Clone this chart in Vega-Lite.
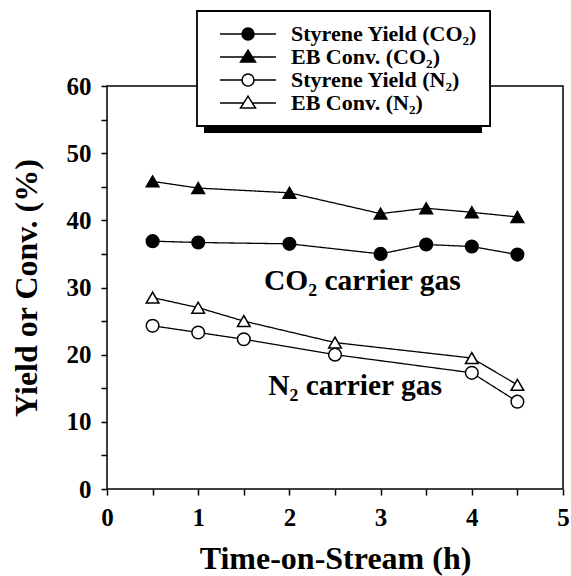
{
  "$schema": "https://vega.github.io/schema/vega-lite/v6.json",
  "width": 456,
  "height": 403,
  "autosize": {"type": "none"},
  "padding": {"left": 107, "top": 86, "right": 8, "bottom": 87},
  "background": "white",
  "config": {
    "view": {"stroke": "black", "strokeWidth": 1.5},
    "font": "Liberation Serif"
  },
  "datasets": {
    "d": [
      {"series": "Styrene Yield (CO₂)", "x": 0.5, "y": 36.9},
      {"series": "Styrene Yield (CO₂)", "x": 1, "y": 36.7},
      {"series": "Styrene Yield (CO₂)", "x": 2, "y": 36.5},
      {"series": "Styrene Yield (CO₂)", "x": 3, "y": 35.0},
      {"series": "Styrene Yield (CO₂)", "x": 3.5, "y": 36.4},
      {"series": "Styrene Yield (CO₂)", "x": 4, "y": 36.1},
      {"series": "Styrene Yield (CO₂)", "x": 4.5, "y": 34.9},
      {"series": "EB Conv. (CO₂)", "x": 0.5, "y": 45.8},
      {"series": "EB Conv. (CO₂)", "x": 1, "y": 44.8},
      {"series": "EB Conv. (CO₂)", "x": 2, "y": 44.1},
      {"series": "EB Conv. (CO₂)", "x": 3, "y": 41.0},
      {"series": "EB Conv. (CO₂)", "x": 3.5, "y": 41.8},
      {"series": "EB Conv. (CO₂)", "x": 4, "y": 41.2},
      {"series": "EB Conv. (CO₂)", "x": 4.5, "y": 40.5},
      {"series": "Styrene Yield (N₂)", "x": 0.5, "y": 24.3},
      {"series": "Styrene Yield (N₂)", "x": 1, "y": 23.3},
      {"series": "Styrene Yield (N₂)", "x": 1.5, "y": 22.3},
      {"series": "Styrene Yield (N₂)", "x": 2.5, "y": 20.0},
      {"series": "Styrene Yield (N₂)", "x": 4, "y": 17.3},
      {"series": "Styrene Yield (N₂)", "x": 4.5, "y": 13.0},
      {"series": "EB Conv. (N₂)", "x": 0.5, "y": 28.5},
      {"series": "EB Conv. (N₂)", "x": 1, "y": 27.0},
      {"series": "EB Conv. (N₂)", "x": 1.5, "y": 25.0},
      {"series": "EB Conv. (N₂)", "x": 2.5, "y": 21.8},
      {"series": "EB Conv. (N₂)", "x": 4, "y": 19.5},
      {"series": "EB Conv. (N₂)", "x": 4.5, "y": 15.5}
    ],
    "notes": [
      {"label": "CO₂ carrier gas", "x": 2.8, "y": 29.6},
      {"label": "N₂ carrier gas", "x": 2.72, "y": 14.0}
    ]
  },
  "encoding": {
    "x": {
      "field": "x",
      "type": "quantitative",
      "scale": {"domain": [0, 5], "nice": false, "zero": false},
      "axis": {
        "values": [0, 0.5, 1, 1.5, 2, 2.5, 3, 3.5, 4, 4.5, 5],
        "labelExpr": "datum.value % 1 === 0 ? format(datum.value, 'd') : ''",
        "title": "Time-on-Stream (h)",
        "domain": false,
        "grid": false,
        "tickSize": 6,
        "tickWidth": 1.5,
        "tickColor": "black",
        "labelFont": "Liberation Serif",
        "labelFontWeight": "bold",
        "labelFontSize": 25,
        "labelColor": "black",
        "labelBaseline": "alphabetic",
        "labelPadding": 30,
        "labelFlush": false,
        "labelOverlap": false,
        "titleFont": "Liberation Serif",
        "titleFontWeight": "bold",
        "titleFontSize": 32,
        "titleColor": "black",
        "titleBaseline": "alphabetic",
        "titleAlign": "center",
        "titleX": 228,
        "titleY": 79
      }
    },
    "y": {
      "field": "y",
      "type": "quantitative",
      "scale": {"domain": [0, 60], "nice": false},
      "axis": {
        "values": [0, 5, 10, 15, 20, 25, 30, 35, 40, 45, 50, 55, 60],
        "labelExpr": "datum.value % 10 === 0 ? datum.label : ''",
        "title": "Yield or Conv. (%)",
        "domain": false,
        "grid": false,
        "tickSize": 6,
        "tickWidth": 1.5,
        "tickColor": "black",
        "labelFont": "Liberation Serif",
        "labelFontWeight": "bold",
        "labelFontSize": 25,
        "labelColor": "black",
        "labelPadding": 10,
        "labelFlush": false,
        "labelOverlap": false,
        "titleFont": "Liberation Serif",
        "titleFontWeight": "bold",
        "titleFontSize": 32,
        "titleColor": "black",
        "titleAngle": -90,
        "titleBaseline": "middle",
        "titleAlign": "center",
        "titleX": -81,
        "titleY": 201.5
      }
    }
  },
  "layer": [
    {
      "data": {"name": "d"},
      "mark": {"type": "line", "stroke": "black", "strokeWidth": 1.3},
      "encoding": {
        "detail": {"field": "series", "type": "nominal"},
        "strokeDash": {
          "datum": "shadow",
          "type": "nominal",
          "scale": {"range": [[1, 0]]},
          "legend": {
            "orient": "none",
            "legendX": 96,
            "legendY": -69,
            "title": null,
            "padding": 0,
            "labelExpr": "''",
            "labelFontSize": 1,
            "symbolType": "M0,0H278V115H0Z",
            "symbolSize": 4,
            "symbolFillColor": "black",
            "symbolStrokeColor": "black",
            "symbolStrokeWidth": 0,
            "symbolOpacity": 1,
            "zindex": 1
          }
        }
      }
    },
    {
      "data": {"name": "d"},
      "mark": {"type": "point", "filled": true, "size": 160, "stroke": "black", "strokeWidth": 1.5, "opacity": 1},
      "encoding": {
        "shape": {
          "field": "series",
          "type": "nominal",
          "sort": ["Styrene Yield (CO₂)", "EB Conv. (CO₂)", "Styrene Yield (N₂)", "EB Conv. (N₂)"],
          "scale": {"range": ["circle", "triangle-up", "circle", "triangle-up"]},
          "legend": {
            "orient": "none",
            "legendX": 90,
            "legendY": -75,
            "title": null,
            "fillColor": "white",
            "strokeColor": "black",
            "padding": 12,
            "labelFont": "Liberation Serif",
            "labelFontWeight": "bold",
            "labelFontSize": 22,
            "labelColor": "black",
            "labelLimit": 400,
            "labelOffset": 60,
            "symbolSize": 144,
            "symbolStrokeWidth": 1.5,
            "symbolStrokeColor": "black",
            "symbolOpacity": 1,
            "rowPadding": 1,
            "zindex": 2,
            "encode": {
              "legend": {"update": {"strokeWidth": {"value": 1.8}}},
              "symbols": {
                "update": {
                  "shape": {"signal": "indexof(datum.value, 'Styrene') >= 0 ? 'M0,0H3.67M5.67,0H9.33M3.67,0A1,1,0,1,1,5.67,0A1,1,0,1,1,3.67,0Z' : 'M0,0H3.95M5.39,0H9.33M4.67,-1.15L5.92,0.85L3.42,0.85Z'"},
                  "stroke": {"value": "black"},
                  "strokeWidth": {"value": 1.5}
                }
              }
            }
          }
        },
        "fill": {
          "field": "series",
          "type": "nominal",
          "sort": ["Styrene Yield (CO₂)", "EB Conv. (CO₂)", "Styrene Yield (N₂)", "EB Conv. (N₂)"],
          "scale": {"range": ["black", "black", "white", "white"]},
          "legend": {
            "orient": "none",
            "legendX": 90,
            "legendY": -75,
            "title": null,
            "fillColor": "white",
            "strokeColor": "black",
            "padding": 12,
            "labelFont": "Liberation Serif",
            "labelFontWeight": "bold",
            "labelFontSize": 22,
            "labelColor": "black",
            "labelLimit": 400,
            "labelOffset": 60,
            "symbolSize": 144,
            "symbolStrokeWidth": 1.5,
            "symbolStrokeColor": "black",
            "symbolOpacity": 1,
            "rowPadding": 1,
            "zindex": 2,
            "encode": {
              "legend": {"update": {"strokeWidth": {"value": 1.8}}},
              "symbols": {
                "update": {
                  "shape": {"signal": "indexof(datum.value, 'Styrene') >= 0 ? 'M0,0H3.67M5.67,0H9.33M3.67,0A1,1,0,1,1,5.67,0A1,1,0,1,1,3.67,0Z' : 'M0,0H3.95M5.39,0H9.33M4.67,-1.15L5.92,0.85L3.42,0.85Z'"},
                  "stroke": {"value": "black"},
                  "strokeWidth": {"value": 1.5}
                }
              }
            }
          }
        }
      }
    },
    {
      "data": {"name": "notes"},
      "mark": {"type": "text", "font": "Liberation Serif", "fontWeight": "bold", "fontSize": 29.5, "baseline": "alphabetic", "align": "center", "color": "black"},
      "encoding": {
        "text": {"field": "label", "type": "nominal"}
      }
    }
  ]
}
